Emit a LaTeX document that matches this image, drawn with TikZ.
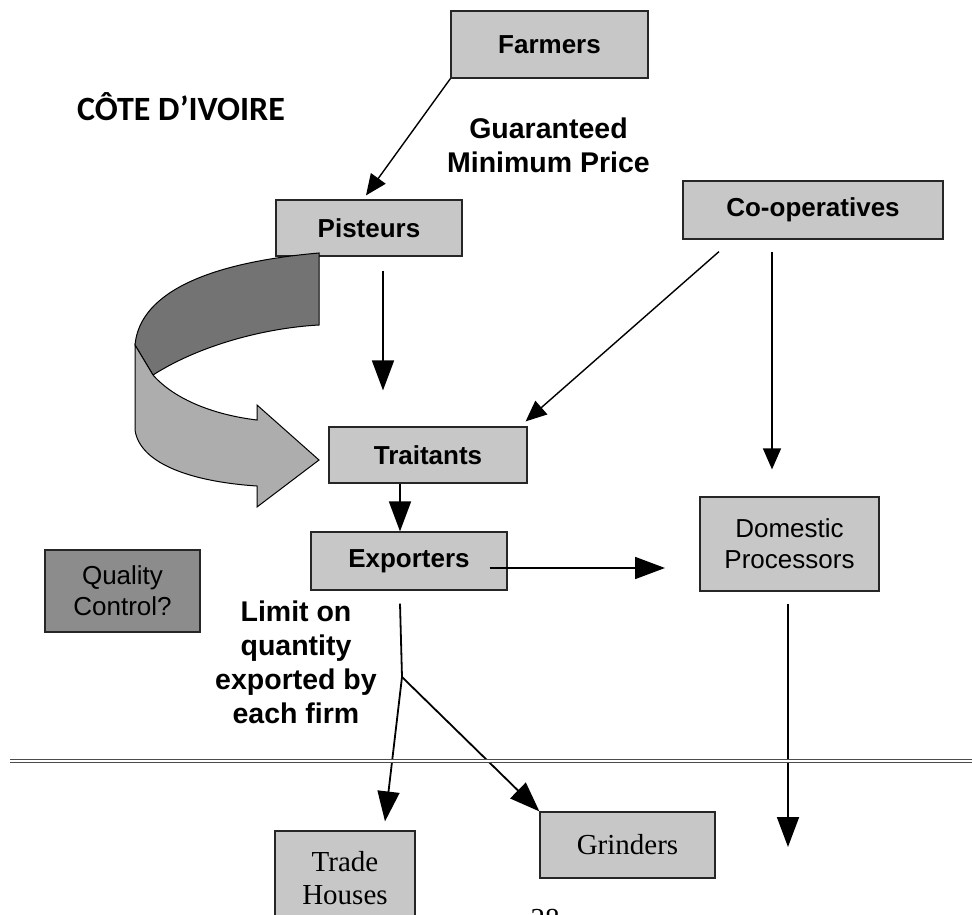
\documentclass[tikz,border=0pt]{standalone}
\usepackage{fontspec}
\setmainfont{Liberation Sans}
\newfontfamily\calibrifont{Carlito}
\newfontfamily\timesfont{Liberation Serif}
\usepackage{tikz}
\usetikzlibrary{arrows.meta,positioning}
\tikzset{
  box/.style={draw=black!85, line width=1.2pt, fill=black!22, align=center, inner sep=0pt,
    font=\fontsize{26}{31}\selectfont},
  boldbox/.style={box, font=\bfseries\fontsize{26}{31}\selectfont},
  serifbox/.style={box, font=\timesfont\fontsize{29}{33}\selectfont},
  lbl/.style={align=center, font=\bfseries\fontsize{28.5}{34}\selectfont},
  arr/.style={-{Triangle[length=30pt,width=22pt]}, line width=1.8pt},
  arrs/.style={-{Triangle[length=21pt,width=18pt]}, line width=1.4pt},
}

\begin{document}
\begin{tikzpicture}[x=1pt, y=-1pt]
  \useasboundingbox (0,0) rectangle (972,915);

  \node[boldbox, minimum width=197pt, minimum height=67pt] (farmers) at (549.5,44.5) {Farmers};
  \node[boldbox, minimum width=186pt, minimum height=56pt] (pist) at (369,228) {Pisteurs};
  \node[boldbox, minimum width=260pt, minimum height=58pt] (coop) at (813,210) {Co-operatives};
  \node[boldbox, minimum width=198pt, minimum height=56pt] (trait) at (428,455) {Traitants};
  \node[boldbox, minimum width=196pt, minimum height=58pt] (export) at (409,561) {Exporters};
  \node[box, minimum width=179pt, minimum height=94pt] (domestic) at (789.5,544) {Domestic\\Processors};
  \node[box, fill=black!45, minimum width=155pt, minimum height=82pt] (quality) at (122.5,591) {Quality\\Control?};
  \node[serifbox, minimum width=140pt, minimum height=94pt] (trade) at (345,878) {Trade\\Houses};
  \node[serifbox, minimum width=175pt, minimum height=66pt] (grind) at (627.5,845) {Grinders};

  \node[font=\calibrifont\bfseries\fontsize{34}{40}\selectfont] (country) at (181,107) {CÔTE D’IVOIRE};
  \node[lbl] (price) at (548.5,145) {Guaranteed\\Minimum Price};
  \node[lbl] (limit) at (296,662) {Limit on\\quantity\\exported by\\each firm};
  \node[font=\timesfont\fontsize{29}{33}\selectfont] (page) at (545,919) {28};

  \fill[black!55, draw=black, line width=1pt]
    (319,253) .. controls (215,262) and (140,290) .. (135,345)
    -- (153,375) .. controls (200,345) and (265,328) .. (319,325) -- cycle;
  \fill[black!32, draw=black, line width=1pt]
    (135,345) -- (135,430) .. controls (140,465) and (195,482) .. (257,486)
    -- (257,507) -- (319,460) -- (257,405) -- (257,420)
    .. controls (215,415) and (175,400) .. (153,375) -- cycle;

  \coordinate (split) at (402,677);
  \coordinate (dpin) at (665,568);
  \coordinate (dout) at (788,847);

  \draw[arrs] (farmers.south west) -- ([xshift=-3pt,yshift=4pt]pist.north);
  \draw[arr] ([xshift=14pt,yshift=-14pt]pist.south) -- ([xshift=-45pt,yshift=36pt]trait.north);
  \draw[arrs] ([xshift=-94pt,yshift=-12pt]coop.south) -- ([xshift=-2pt,yshift=5pt]trait.north east);
  \draw[arrs] ([xshift=-41pt,yshift=-12pt]coop.south) -- ([xshift=-17.5pt,yshift=27pt]domestic.north);
  \draw[arr] ([xshift=-28pt]trait.south) -- ([xshift=-9pt]export.north);
  \draw[arr] ([xshift=-18pt,yshift=-7pt]export.east) -- (dpin);
  \draw[line width=1.8pt] ([xshift=-9pt,yshift=-13pt]export.south) -- (split);
  \draw[arr] (split) -- ([xshift=40pt,yshift=9pt]trade.north);
  \draw[arr] (split) -- (grind.north west);
  \draw[arr] ([xshift=-1.5pt,yshift=-12pt]domestic.south) -- (dout);

  \draw[black!70, line width=1pt, double=white, double distance=2.5pt] (10,761) -- (972,761);
\end{tikzpicture}
\end{document}
